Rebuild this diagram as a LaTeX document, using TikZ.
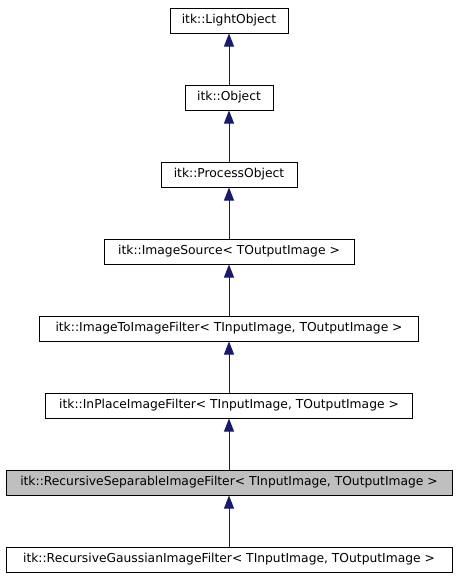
\documentclass[tikz,border=0pt]{standalone}
\usepackage{fontspec}
\setmainfont{DejaVu Sans}
\usetikzlibrary{arrows.meta}
\definecolor{edgeblue}{HTML}{191970}
\definecolor{hlgray}{HTML}{BFBFBF}
\begin{document}
\begin{tikzpicture}[x=1pt,y=-1pt,
  cls/.style={draw=black,line width=1pt,fill=white,minimum height=25pt,inner sep=0pt,font=\fontsize{12.3}{14}\selectfont},
  inh/.style={draw=edgeblue,line width=1pt,-{Triangle[width=10pt,length=13pt,fill=edgeblue]}}]
\useasboundingbox (0,0) rectangle (459,581);
\node[cls,minimum width=118pt] (lo) at (229,20.5) {itk::LightObject};
\node[cls,minimum width=88pt] (ob) at (229,97.5) {itk::Object};
\node[cls,minimum width=136pt] (po) at (229,174.5) {itk::ProcessObject};
\node[cls,minimum width=250pt] (is) at (229,251.5) {itk::ImageSource< TOutputImage >};
\node[cls,minimum width=379pt] (iti) at (229,328.5) {itk::ImageToImageFilter< TInputImage, TOutputImage >};
\node[cls,minimum width=367pt] (ip) at (229,405.5) {itk::InPlaceImageFilter< TInputImage, TOutputImage >};
\node[cls,minimum width=446pt,fill=hlgray] (rs) at (229,482.5) {itk::RecursiveSeparableImageFilter< TInputImage, TOutputImage >};
\node[cls,minimum width=446pt] (rg) at (229,559.5) {itk::RecursiveGaussianImageFilter< TInputImage, TOutputImage >};
\draw[inh] (ob) -- (lo);
\draw[inh] (po) -- (ob);
\draw[inh] (is) -- (po);
\draw[inh] (iti) -- (is);
\draw[inh] (ip) -- (iti);
\draw[inh] (rs) -- (ip);
\draw[inh] (rg) -- (rs);
\end{tikzpicture}
\end{document}
